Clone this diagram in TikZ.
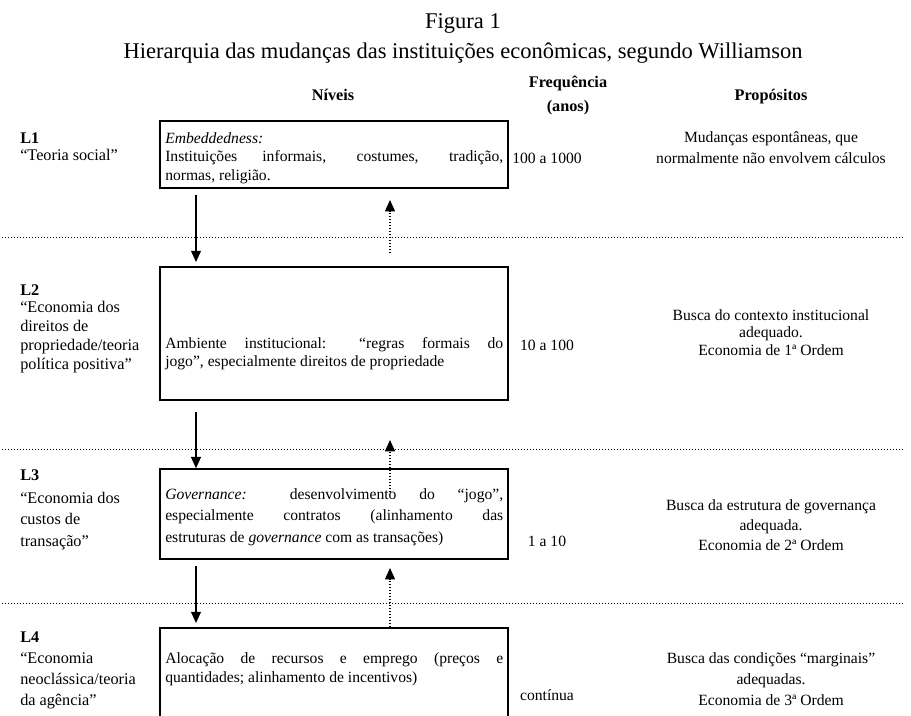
\documentclass[tikz,border=0pt]{standalone}
\usepackage{fontspec}
\setmainfont{Liberation Serif}
\usetikzlibrary{arrows.meta}
\tikzset{level/.style={
                       % The frame:
                       rectangle,draw,line width=1.3pt,
                       minimum width=278.4pt,inner sep=0pt
                       },
         leveltext/.style={
                       % The text inside a frame:
                       anchor=base west,inner sep=0pt,
                       text width=270.4pt,align=justify
                       },
         tag/.style={anchor=base west,inner sep=0pt,align=left},
         column/.style={anchor=base,inner sep=0pt,align=center},
         head/.style={column,font=\bfseries\fontsize{13}{19}\selectfont},
         separator/.style={line width=0.8pt,dash pattern=on 0.8pt off 1.6pt},
         down/.style={-{Triangle[length=9pt,width=8pt]},line width=1pt},
         up/.style={-{Triangle[length=9pt,width=8pt]},line width=0.9pt,
                    dash pattern=on 1pt off 1.4pt}}

\begin{document}
\begin{tikzpicture}[x=0.8pt,y=-0.8pt,
                    font=\fontsize{12.5}{14.8}\selectfont]
  \useasboundingbox (0,0) rectangle (911,715);
  \clip (0,0) rectangle (911,715);

  % Title:
  \node (fig) [column,font=\fontsize{18}{20}\selectfont] at (463,28) {Figura 1};
  \node (title) [column,font=\fontsize{18}{20}\selectfont] at (463,58)
    {Hierarquia das mudanças das instituições econômicas, segundo Williamson};

  % Headings (a node with several lines sits on its last line):
  \node (hlevels) [head] at (333,100) {Níveis};
  \node (hfreq) [head] at (568,111) {Frequência\\(anos)};
  \node (hgoals) [head] at (771,100) {Propósitos};

  % Separators:
  \draw[separator] (2,237) -- (903,237);
  \draw[separator] (2,449) -- (903,449);
  \draw[separator] (2,603) -- (903,603);

  % First level:
  \node (l1) [tag,font=\fontsize{13}{15.2}\selectfont] at (20,160)
    {\textbf{L1}\\[-1.6pt]“Teoria social”};
  \node (n1) [level,minimum height=53.6pt] at (334,154.5) {};
  \node (t1) [leveltext] at (165,143)
    {\textit{Embeddedness:}\\ Instituições informais, costumes, tradição,\linebreak normas, religião.};
  \node (f1) [column] at (547,163) {100 a 1000};
  \node (p1) [column,font=\fontsize{12.5}{16.8}\selectfont] at (771,163)
    {Mudanças espontâneas, que\\normalmente não envolvem cálculos};

  % Second level:
  \node (l2) [tag,font=\fontsize{13}{15.2}\selectfont] at (20,369)
    {\textbf{L2}\\[-1.6pt]“Economia dos\\direitos de\\propriedade/teoria\\política positiva”};
  \node (n2) [level,minimum height=106.4pt] at (334,333.5) {};
  \node (t2) [leveltext] at (165,348)
    {Ambiente institucional: “regras formais do\linebreak jogo”, especialmente direitos de propriedade};
  \node (f2) [column] at (547,350) {10 a 100};
  \node (p2) [column,font=\fontsize{12.5}{14}\selectfont] at (771,355)
    {Busca do contexto institucional\\adequado.\\Economia de 1ª Ordem};

  % Third level:
  \node (l3) [tag,font=\fontsize{13}{17.2}\selectfont] at (20,546)
    {\textbf{L3}\\[1.2pt]“Economia dos\\custos de\\transação”};
  \node (n3) [level,minimum height=72pt] at (334,514) {};
  \node (t3) [leveltext,font=\fontsize{12.5}{17.2}\selectfont] at (165,499)
    {\textit{Governance:} desenvolvimento do “jogo”,\linebreak especialmente contratos (alinhamento das\linebreak estruturas de \textit{governance} com as transações)};
  \node (f3) [column] at (547,546) {1 a 10};
  \node (p3) [column,font=\fontsize{12.5}{16}\selectfont] at (771,550)
    {Busca da estrutura de governança\\adequada.\\Economia de 2ª Ordem};

  % Fourth level:
  \node (l4) [tag,font=\fontsize{13}{16.8}\selectfont] at (20,705)
    {\textbf{L4}\\“Economia\\neoclássica/teoria\\da agência”};
  \node (n4) [level,minimum height=105.6pt] at (334,694) {};
  \node (t4) [leveltext,font=\fontsize{12.5}{15.2}\selectfont] at (165,663)
    {Alocação de recursos e emprego (preços e\linebreak quantidades; alinhamento de incentivos)};
  \node (f4) [column] at (547,700) {contínua};
  \node (p4) [column,font=\fontsize{12.5}{16.8}\selectfont] at (771,705)
    {Busca das condições “marginais”\\adequadas.\\Economia de 3ª Ordem};

  % Arrow ends:
  \coordinate (d1) at (196,195);  \coordinate (d1e) at (196,262);
  \coordinate (u1) at (390,253);  \coordinate (u1e) at (390,200);
  \coordinate (d2) at (196,412);
  \coordinate (u2) at (390,492);  \coordinate (u2e) at (390,440);
  \coordinate (d3) at (196,566);  \coordinate (d3e) at (196,623);
  \coordinate (u3e) at (390,568);

  \draw[down] (d1) -- (d1e);
  \draw[up] (u1) -- (u1e);
  \draw[down] (d2) -- (d2 |- n3.north);
  \draw[up] (u2) -- (u2e);
  \draw[down] (d3) -- (d3e);
  \draw[up] (u3e |- n4.north) -- (u3e);
\end{tikzpicture}
\end{document}
